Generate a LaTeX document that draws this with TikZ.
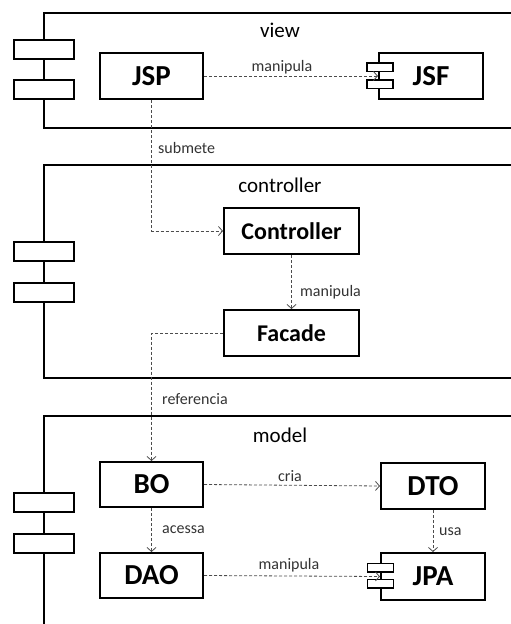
\documentclass[tikz,border=0pt]{standalone}
\usepackage{fontspec}
\setmainfont{Carlito}
\usetikzlibrary{arrows.meta}
\begin{document}
\begin{tikzpicture}[x=1pt,y=-1pt,
  pkg/.style={draw, line width=2pt},
  pkgtab/.style={draw, line width=2pt, fill=white, minimum width=60pt, minimum height=19pt, inner sep=0pt},
  comptab/.style={draw, line width=1.5pt, fill=white, minimum width=26pt, minimum height=8.5pt, inner sep=0pt},
  pkglabel/.style={font=\fontsize{21}{23}\selectfont},
  comp/.style={draw, line width=2pt, fill=white, inner sep=0pt, font=\bfseries\fontsize{29}{32}\selectfont},
  wide/.style={font=\bfseries\fontsize{24}{27}\selectfont},
  dep/.style={draw=black!70, line width=0.8pt, dash pattern=on 3pt off 2pt, -{Straight Barb[length=4pt,width=9pt]}},
  lbl/.style={font=\fontsize{16}{18}\selectfont, text=black!80, inner sep=0pt}
]
\useasboundingbox (0,0) rectangle (511,624);
\clip (0,0) rectangle (511,624);

% packages
\draw[pkg] (44,13) rectangle (540,128);
\draw[pkg] (44,165) rectangle (540,378);
\draw[pkg] (44,416) rectangle (540,650);
\node[pkgtab] (vt1) at (44,49) {};
\node[pkgtab] (vt2) at (44,89.5) {};
\node[pkgtab] (ct1) at (44,251.5) {};
\node[pkgtab] (ct2) at (44,292.5) {};
\node[pkgtab] (mt1) at (44,502) {};
\node[pkgtab] (mt2) at (44,543) {};
\node[pkglabel] (lview) at (280,30) {view};
\node[pkglabel] (lctrl) at (280,185) {controller};
\node[pkglabel] (lmodel) at (280,435) {model};

% components
\node[comp, minimum width=103pt, minimum height=46pt] (jsp) at (151.5,76) {JSP};
\node[comp, minimum width=104pt, minimum height=46pt] (jsf) at (431,76) {JSF};
\node[comptab] (jsft1) at (380,67) {};
\node[comptab] (jsft2) at (380,84) {};
\node[comp, wide, minimum width=135pt, minimum height=46pt] (ctrl) at (291.5,231) {Controller};
\node[comp, wide, minimum width=135pt, minimum height=46pt] (fac) at (291.5,333) {Facade};
\node[comp, minimum width=103pt, minimum height=45pt] (bo) at (151.5,484.5) {BO};
\node[comp, minimum width=103pt, minimum height=45pt] (dao) at (151.5,575.5) {DAO};
\node[comp, minimum width=104pt, minimum height=46pt] (dto) at (433,486) {DTO};
\node[comp, minimum width=104pt, minimum height=47pt] (jpa) at (433,576.5) {JPA};
\node[comptab] (jpat1) at (380.5,567.5) {};
\node[comptab] (jpat2) at (380.5,583.5) {};

% connectors
\draw[dep] (jsp.east) -- (jsf.west);
\node[lbl] (l1) at (282,67) {manipula};
\draw[dep] (jsp.south) -- (jsp.south |- ctrl.west) -- (ctrl.west);
\node[lbl, anchor=west] (l2) at (158,148) {submete};
\draw[dep] (ctrl.south) -- (fac.north);
\node[lbl, anchor=west] (l3) at (300,292) {manipula};
\draw[dep] (fac.west) -- (bo.north |- fac.west) -- (bo.north);
\node[lbl, anchor=west] (l4) at (162,399) {referencia};
\draw[dep] (bo.east) -- (dto.west);
\node[lbl] (l5) at (290,476) {cria};
\draw[dep] (bo.south) -- (dao.north);
\node[lbl, anchor=west] (l6) at (162,530) {acessa};
\draw[dep] (dto.south) -- (jpa.north);
\node[lbl, anchor=west] (l7) at (439,532) {usa};
\draw[dep] (dao.east) -- (jpa.west);
\node[lbl] (l8) at (289,565) {manipula};
\end{tikzpicture}
\end{document}
